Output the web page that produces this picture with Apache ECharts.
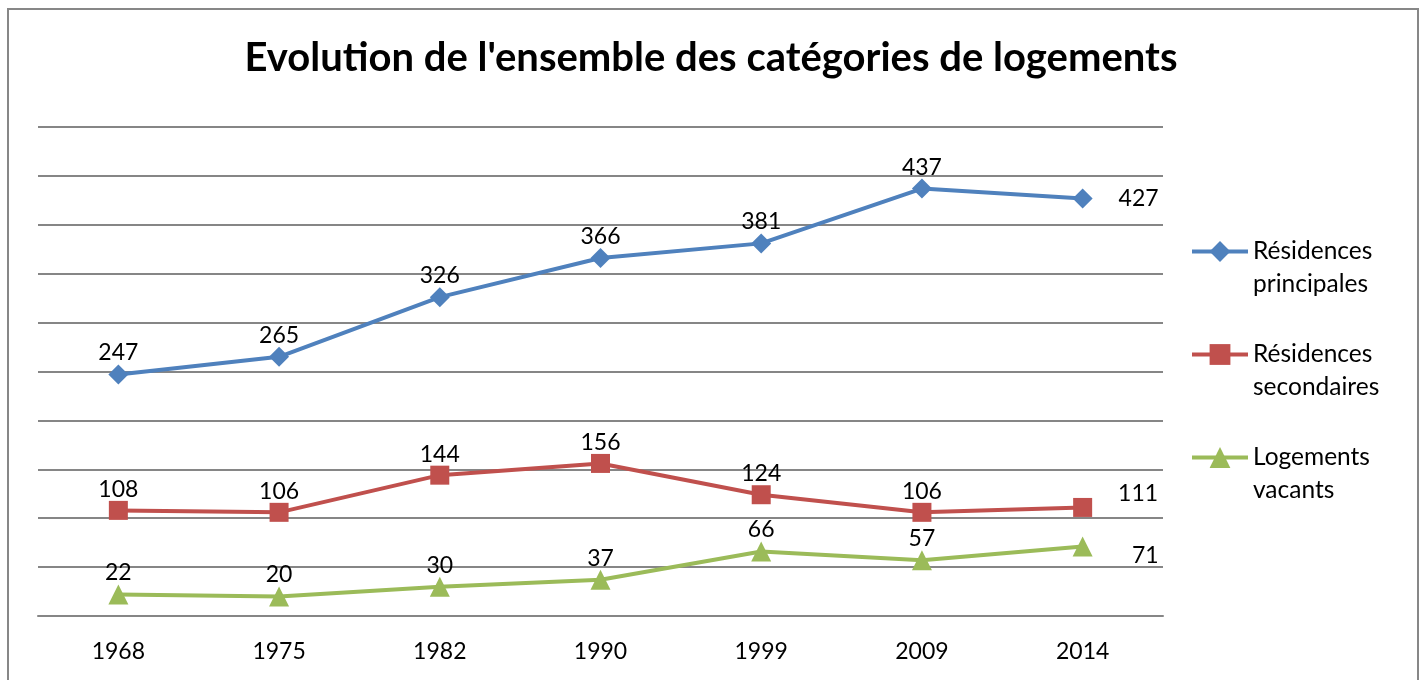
<!DOCTYPE html>
<html>
<head>
<meta charset="utf-8">
<script src="https://cdn.jsdelivr.net/npm/echarts@6/dist/echarts.min.js"></script>
<style>
  html, body { margin: 0; padding: 0; background: #fff; }
  #chart { width: 1422px; height: 680px; }
</style>
</head>
<body>
<div id="chart"></div>
<script>
var years = ['1968', '1975', '1982', '1990', '1999', '2009', '2014'];
var principales = [247, 265, 326, 366, 381, 437, 427];
var secondaires = [108, 106, 144, 156, 124, 106, 111];
var vacants = [22, 20, 30, 37, 66, 57, 71];

var seriesNames = ['Résidences\nprincipales', 'Résidences\nsecondaires', 'Logements\nvacants'];
var seriesColors = ['#4F81BD', '#C0504D', '#9BBB59'];

var chart = echarts.init(document.getElementById('chart'));

// last point label sits on the right, right-aligned like in the original
function makeSeries(name, data, color, symbol, size, lastDy) {
    var last = data.length - 1;
    var items = data.map(function(v, i) {
        if (i !== last) return v;
        return {
            value: v,
            label: { position: 'right', distance: 66, align: 'right', offset: [0, lastDy] }
        };
    });
    return {
        name: name,
        type: 'line',
        data: items,
        symbol: symbol,
        symbolSize: size,
        lineStyle: { color: color, width: 4 },
        itemStyle: { color: color },
        label: {
            show: true,
            position: 'top',
            distance: 0,
            color: '#000',
            fontSize: 23,
            fontFamily: 'Lato'
        },
        emphasis: { disabled: true }
    };
}

var option = {
    animation: false,
    title: {
        text: "Evolution de l'ensemble des catégories de logements",
        left: 'center',
        top: 33,
        textStyle: { fontFamily: 'Lato', fontWeight: 'bold', fontSize: 40, color: '#000' }
    },
    graphic: [{
        type: 'rect',
        shape: { x: 8, y: 9, width: 1410, height: 700 },
        style: { fill: 'none', stroke: '#878787', lineWidth: 2 },
        silent: true
    }],
    legend: {
        orient: 'vertical',
        left: 1190,
        top: 202,
        padding: 0,
        itemWidth: 56,
        itemHeight: 26,
        itemGap: 4,
        data: seriesNames,
        formatter: function(name) { return ' \n' + name; },
        lineStyle: { width: 4 },
        textStyle: {
            fontFamily: 'Lato',
            fontSize: 24.5,
            color: '#000',
            lineHeight: 33
        }
    },
    grid: { left: 38, right: 259, top: 127, bottom: 64 },
    xAxis: {
        type: 'category',
        data: years,
        boundaryGap: true,
        axisLine: { lineStyle: { color: '#868686', width: 2 } },
        axisTick: { show: false },
        axisLabel: { color: '#000', fontSize: 23, fontFamily: 'Lato', margin: 24 }
    },
    yAxis: {
        type: 'value',
        min: 0,
        max: 500,
        interval: 50,
        axisLabel: { show: false },
        axisLine: { show: false },
        axisTick: { show: false },
        splitLine: { lineStyle: { color: '#868686', width: 2 } }
    },
    series: [
        makeSeries(seriesNames[0], principales, seriesColors[0], 'diamond', 20, 0),
        makeSeries(seriesNames[1], secondaires, seriesColors[1], 'rect', 19, -14),
        makeSeries(seriesNames[2], vacants, seriesColors[2], 'triangle', 20, 9)
    ]
};

chart.setOption(option);
</script>
</body>
</html>
